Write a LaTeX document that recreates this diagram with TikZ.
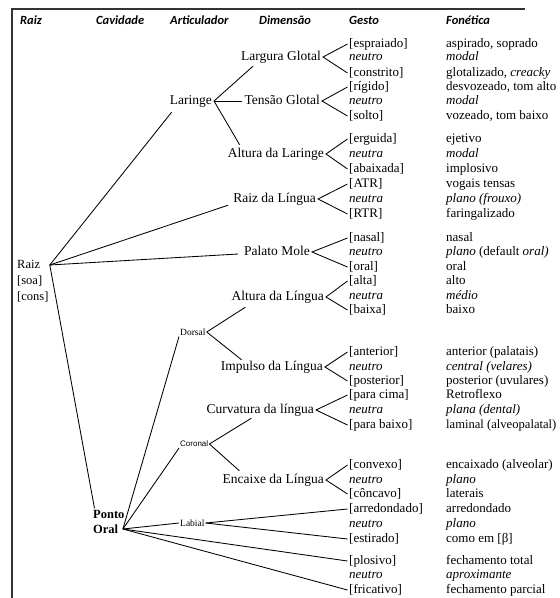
\documentclass[tikz,border=0pt]{standalone}
\usepackage{fontspec}
\setmainfont{Liberation Serif}
\newfontfamily\gfont{Liberation Serif}
\newfontfamily\hfont{Carlito}
\newfontfamily\sfnt{Liberation Sans}
\usetikzlibrary{calc}
\definecolor{frame}{HTML}{333333}
\tikzset{
  hdr/.style={font=\hfont\bfseries\itshape\fontsize{12.5}{14}\selectfont, anchor=west, inner sep=0pt},
  gtxt/.style={font=\gfont\fontsize{13}{15}\selectfont, anchor=west, inner sep=1.5pt, text height=9pt, text depth=3pt},
  dimtxt/.style={font=\fontsize{13.5}{15}\selectfont, anchor=east, inner sep=2pt, text height=9pt, text depth=3pt},
  smalltxt/.style={font=\fontsize{9.5}{11}\selectfont, inner sep=1pt},
  ln/.style={draw=black, line width=0.85pt},
}
\begin{document}
\begin{tikzpicture}[x=1pt,y=-1pt]
\useasboundingbox (0,0) rectangle (560,598);
% frame
\draw[frame, line width=1.2pt] (12,598) -- (12,9) -- (525,9);
% headers
\node[hdr] (h1) at (20,20) {Raiz};
\node[hdr] (h2) at (96,20) {Cavidade};
\node[hdr] (h3) at (170,20) {Articulador};
\node[hdr] (h4) at (259,20) {Dimensão};
\node[hdr] (h5) at (349,20) {Gesto};
\node[hdr] (h6) at (446,20) {Fonética};
% gestures and phonetics
\foreach \i/\y/\g/\p in {
 1/44/{[espraiado]}/{aspirado, soprado},
 2/57/{\textit{neutro}}/{\textit{modal}},
 3/73/{[constrito]}/{glotalizado, \textit{creacky}},
 4/87/{[rígido]}/{desvozeado, tom alto},
 5/101/{\textit{neutro}}/{\textit{modal}},
 6/116/{[solto]}/{vozeado, tom baixo},
 7/139/{[erguida]}/{ejetivo},
 8/154/{\textit{neutra}}/{\textit{modal}},
 9/169/{[abaixada]}/{implosivo},
 10/184/{[ATR]}/{vogais tensas},
 11/199/{\textit{neutra}}/{\textit{plano (frouxo)}},
 12/214/{[RTR]}/{faringalizado},
 13/238/{[nasal]}/{nasal},
 14/252/{\textit{neutro}}/{\textit{plano} (default \textit{oral)}},
 15/267/{[oral]}/{oral},
 16/281/{[alta]}/{alto},
 17/296/{\textit{neutra}}/{\textit{médio}},
 18/310/{[baixa]}/{baixo},
 19/352/{[anterior]}/{anterior (palatais)},
 20/367/{\textit{neutro}}/{\textit{central (velares)}},
 21/381/{[posterior]}/{posterior (uvulares)},
 22/395/{[para cima]}/{Retroflexo},
 23/410/{\textit{neutra}}/{\textit{plana (dental)}},
 24/425/{[para baixo]}/{{\fontsize{12.6}{15}\selectfont laminal (alveopalatal)}},
 25/465/{[convexo]}/{encaixado (alveolar)},
 26/480/{\textit{neutro}}/{\textit{plano}},
 27/494/{[côncavo]}/{laterais},
 28/509/{[arredondado]}/{arredondado},
 29/524/{\textit{neutro}}/{\textit{plano}},
 30/539/{[estirado]}/{como em [β]},
 31/561/{[plosivo]}/{fechamento total},
 32/575/{\textit{neutro}}/{\textit{aproximante}},
 33/590/{[fricativo]}/{fechamento parcial}}{
  \node[gtxt] (g\i) at (347.5,\y) {\g};
  \node[gtxt] (p\i) at (444.5,\y) {\p};
}
% dimensions
\node[dimtxt] (LG) at (323,57) {Largura Glotal};
\node[dimtxt] (TG) at (322,101) {Tensão Glotal};
\node[dimtxt] (AL) at (326,154) {Altura da Laringe};
\node[dimtxt] (RL) at (318,199) {Raiz da Língua};
\node[dimtxt] (PM) at (312,252) {Palato Mole};
\node[dimtxt] (ALi) at (326,297) {Altura da Língua};
\node[dimtxt] (IL) at (325,367) {Impulso da Língua};
\node[dimtxt] (CL) at (316,410) {Curvatura da língua};
\node[dimtxt] (EL) at (326,480) {Encaixe da Língua};
\foreach \d/\a/\b in {LG/1/3,TG/4/6,AL/7/9,RL/10/12,PM/13/15,ALi/16/18,IL/19/21,CL/22/24,EL/25/27}{
  \draw[ln] (g\a.west) -- (\d.east) -- (g\b.west);
}
% articulators
\node[dimtxt] (Lar) at (214,101) {Laringe};
\node[smalltxt, anchor=west] (dorsal) at (179,332) {Dorsal};
\node[smalltxt, anchor=west, font=\sfnt\fontsize{8}{10}\selectfont] (coronal) at (179,444) {Coronal};
\node[smalltxt, anchor=west] (labial) at (179,523) {Labial};
% root and cavity
\node[gtxt, font=\gfont\fontsize{12.5}{14}\selectfont] (raiz) at (15.5,265) {Raiz};
\node[gtxt, font=\gfont\fontsize{12.5}{14}\selectfont] (soa) at (15.5,281) {[soa]};
\node[gtxt, font=\gfont\fontsize{12.5}{14}\selectfont] (cons) at (15.5,297) {[cons]};
\node[gtxt, font=\gfont\bfseries\fontsize{12.5}{14}\selectfont] (ponto) at (91.5,515) {Ponto};
\node[gtxt, font=\gfont\bfseries\fontsize{12.5}{14}\selectfont] (oral) at (91.5,530) {Oral};
\coordinate (rv) at ($(raiz.east)+(8,0)$);
\coordinate (pv) at ($(oral.east)+(3,-1)$);
% connectors
\draw[ln] (Lar.east) -- ($(LG.south west)+(14,1)$);
\draw[ln] (Lar.east) -- (TG.west);
\draw[ln] (Lar.east) -- ($(AL.north west)+(14,-1)$);
\draw[ln] (rv) -- ($(Lar.south west)+(4,3)$);
\draw[ln] (rv) -- ($(RL.south west)+(-3,-2)$);
\draw[ln] (rv) -- ($(PM.west)+(-4,2)$);
\draw[ln] (rv) -- ($(ponto.north west)+(3,1)$);
\draw[ln] (pv) -- (dorsal.south west);
\draw[ln] (pv) -- (coronal.south west);
\draw[ln] (pv) -- (labial.west);
\draw[ln] (pv) -- (g31.west);
\draw[ln] (pv) -- (g33.west);
\draw[ln] (dorsal.east) -- ($(ALi.south west)+(16,2)$);
\draw[ln] (dorsal.east) -- ($(IL.north west)+(23,1)$);
\draw[ln] (coronal.east) -- ($(CL.south west)+(47,0)$);
\draw[ln] (coronal.east) -- ($(EL.north west)+(19,-1)$);
\draw[ln] (labial.east) -- (g28.west);
\draw[ln] (labial.east) -- (g30.west);
\end{tikzpicture}
\end{document}
